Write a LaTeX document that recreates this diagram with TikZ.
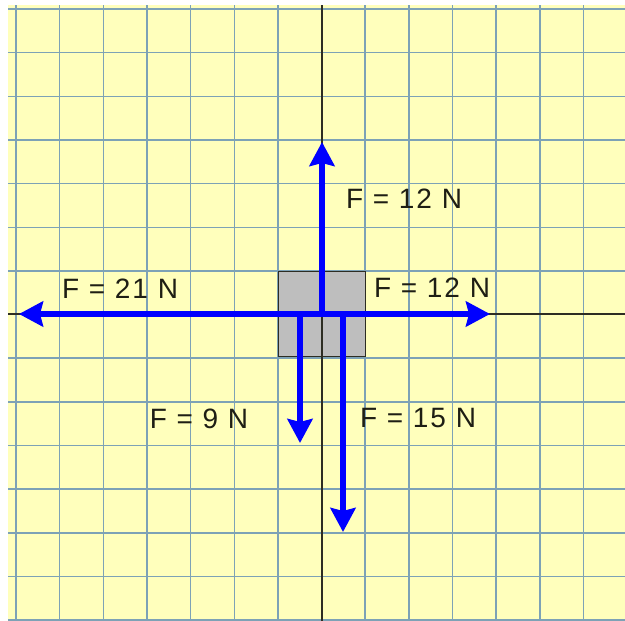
\documentclass[tikz,border=0pt]{standalone}
\usepackage{fontspec}
\setmainfont{Liberation Sans}
\usetikzlibrary{arrows.meta}
\definecolor{paper}{RGB}{255,255,188}
\definecolor{gridc}{RGB}{125,162,182}
\definecolor{axisc}{RGB}{45,45,35}
\definecolor{forcec}{RGB}{0,0,255}
\definecolor{boxc}{RGB}{190,190,190}
\definecolor{textc}{RGB}{30,30,20}
\begin{document}
\begin{tikzpicture}[x=1pt,y=-1pt,
  gridline/.style={gridc, line width=1.5pt},
  axisline/.style={axisc, line width=2pt},
  force/.style={forcec, line width=6pt, -{Stealth[length=24pt,width=25pt,inset=3pt]}},
  lbl/.style={textc, anchor=base, inner sep=0pt, font=\fontsize{28}{32}\selectfont\addfontfeatures{LetterSpace=7}},
  block/.style={draw=axisc, fill=boxc, line width=1.8pt, minimum width=87pt, minimum height=85pt, inner sep=0pt}]
\useasboundingbox (0,0) rectangle (625,621);
\fill[white] (0,0) rectangle (625,621);
\fill[paper] (8,5) rectangle (625,621);
% grid
\foreach \k in {0,...,13} {
  \draw[gridline] ({16+43.65*\k},5) -- ({16+43.65*\k},621);
}
\foreach \k in {0,...,14} {
  \draw[gridline] (8,{9+43.65*\k}) -- (625,{9+43.65*\k});
}
% block
\node[block] (box) at (322,314) {};
% axes
\coordinate (ytop) at (322,5);
\coordinate (ybot) at (322,621);
\coordinate (xl) at (8,314);
\coordinate (xr) at (625,314);
\draw[axisline] (ytop) -- (ybot);
\draw[axisline] (xl) -- (xr);
% forces
\coordinate (o) at (322,314);
\coordinate (up) at (322,142);
\coordinate (lt) at (19,314);
\coordinate (rt) at (490,314);
\coordinate (dls) at (300,314);
\coordinate (dl) at (300,443);
\coordinate (drs) at (343,314);
\coordinate (dr) at (343,532);
\draw[force] (o) -- (up);
\draw[force] (o) -- (lt);
\draw[force] (o) -- (rt);
\draw[force] (dls) -- (dl);
\draw[force] (drs) -- (dr);
% labels
\node[lbl] (f1) at (404,208) {F = 12 N};
\node[lbl] (f2) at (120,298) {F = 21 N};
\node[lbl] (f3) at (432,297) {F = 12 N};
\node[lbl] (f4) at (418,427) {F = 15 N};
\node[lbl] (f5) at (199,428) {F = 9 N};
\end{tikzpicture}
\end{document}
